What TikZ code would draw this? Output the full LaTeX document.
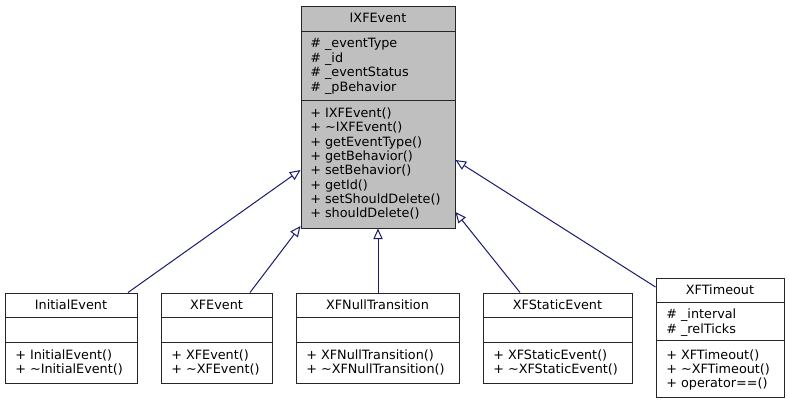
\documentclass[tikz,border=0pt]{standalone}
\usepackage{fontspec}
\setmainfont{DejaVu Sans}
\usetikzlibrary{arrows.meta,fit}
\definecolor{edgeblue}{HTML}{191970}
\definecolor{hdrgray}{HTML}{BFBFBF}
\begin{document}
\begin{tikzpicture}[x=0.75pt,y=-0.75pt,
  font=\fontsize{9.6}{10.8}\selectfont,
  cls/.style={draw=black!85, line width=0.75pt, inner sep=0pt, fill=white},
  divider/.style={draw=black!85, line width=0.75pt},
  ttl/.style={anchor=base, inner sep=0pt},
  mem/.style={anchor=base west, inner sep=0pt},
  inh/.style={draw=edgeblue, line width=0.75pt, -{Triangle[open,length=8pt,width=7pt]}}]
\useasboundingbox (0,0) rectangle (790,404);

% IXFEvent
\node[cls, fill=hdrgray, fit={(301,6)(455,228)}] (ixf) {};
\draw[divider] (301,31) -- (455,31);
\draw[divider] (301,100) -- (455,100);
\node[ttl] (ixft) at (378,22.5) {IXFEvent};
\node[mem] (ixfa1) at (310,47.5) {\# \_eventType};
\node[mem] (ixfa2) at (310,62) {\# \_id};
\node[mem] (ixfa3) at (310,76.5) {\# \_eventStatus};
\node[mem] (ixfa4) at (310,91) {\# \_pBehavior};
\node[mem] (ixfm1) at (310,117.5) {+ IXFEvent()};
\node[mem] (ixfm2) at (310,131.8) {+ \textasciitilde IXFEvent()};
\node[mem] (ixfm3) at (310,146.2) {+ getEventType()};
\node[mem] (ixfm4) at (310,160.5) {+ getBehavior()};
\node[mem] (ixfm5) at (310,174.8) {+ setBehavior()};
\node[mem] (ixfm6) at (310,189.2) {+ getId()};
\node[mem] (ixfm7) at (310,203.5) {+ setShouldDelete()};
\node[mem] (ixfm8) at (310,217.8) {+ shouldDelete()};

% InitialEvent
\node[cls, fit={(5,293)(137,383)}] (ie) {};
\draw[divider] (5,317.5) -- (137,317.5);
\draw[divider] (5,342.5) -- (137,342.5);
\node[ttl] (iet) at (71,309) {InitialEvent};
\node[mem] (iem1) at (15,359.5) {+ InitialEvent()};
\node[mem] (iem2) at (15,373.8) {+ \textasciitilde InitialEvent()};

% XFEvent
\node[cls, fit={(161,293)(272,383)}] (xe) {};
\draw[divider] (161,317.5) -- (272,317.5);
\draw[divider] (161,342.5) -- (272,342.5);
\node[ttl] (xet) at (216.5,309) {XFEvent};
\node[mem] (xem1) at (171,359.5) {+ XFEvent()};
\node[mem] (xem2) at (171,373.8) {+ \textasciitilde XFEvent()};

% XFNullTransition
\node[cls, fit={(296,293)(459,383)}] (nt) {};
\draw[divider] (296,317.5) -- (459,317.5);
\draw[divider] (296,342.5) -- (459,342.5);
\node[ttl] (ntt) at (377.5,309) {XFNullTransition};
\node[mem] (ntm1) at (306,359.5) {+ XFNullTransition()};
\node[mem] (ntm2) at (306,373.8) {+ \textasciitilde XFNullTransition()};

% XFStaticEvent
\node[cls, fit={(483,293)(632,383)}] (se) {};
\draw[divider] (483,317.5) -- (632,317.5);
\draw[divider] (483,342.5) -- (632,342.5);
\node[ttl] (set) at (557.5,309) {XFStaticEvent};
\node[mem] (sem1) at (493,359.5) {+ XFStaticEvent()};
\node[mem] (sem2) at (493,373.8) {+ \textasciitilde XFStaticEvent()};

% XFTimeout
\node[cls, fit={(656,278)(784,397)}] (to) {};
\draw[divider] (656,302.7) -- (784,302.7);
\draw[divider] (656,340) -- (784,340);
\node[ttl] (tot) at (720,294.5) {XFTimeout};
\node[mem] (toa1) at (666,318.5) {\# \_interval};
\node[mem] (toa2) at (666,333) {\# \_relTicks};
\node[mem] (tom1) at (666,359.5) {+ XFTimeout()};
\node[mem] (tom2) at (666,373.5) {+ \textasciitilde XFTimeout()};
\node[mem] (tom3) at (666,387.5) {+ operator==()};

% inheritance edges
\draw[inh] (ie.north -| 128,0) -- (ixf.west |- 0,170);
\draw[inh] (xe.north -| 250,0) -- (ixf.west |- 0,226);
\draw[inh] (nt.north -| 378,0) -- (ixf.south);
\draw[inh] (se.north -| 520,0) -- (ixf.east |- 0,212);
\draw[inh] (to.west |- 0,287) -- (ixf.east |- 0,160);
\end{tikzpicture}
\end{document}
